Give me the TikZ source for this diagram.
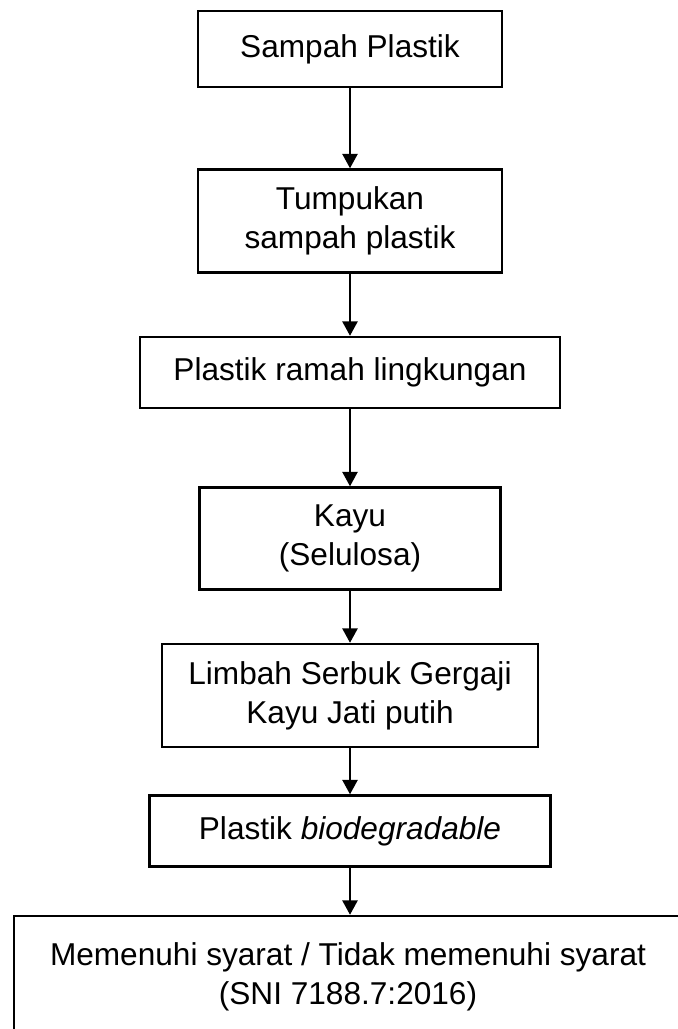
\documentclass[tikz,border=0pt]{standalone}
\usepackage{fontspec}
\setmainfont{Liberation Sans}
\usetikzlibrary{arrows.meta}
\begin{document}
\begin{tikzpicture}
[x=0.5pt, y=-0.5pt,
  boxdecorate/.style={shape=rectangle,draw,line width=1.2pt,inner sep=0pt,%
    align=center,font=\fontsize{15.8}{19.5}\selectfont},
  arrowdecorate/.style={-{Triangle[width=7.5pt,length=7.2pt]},line width=1.2pt}]
\useasboundingbox (0,0) rectangle (678,1029);
%% nodes or boxes
\node (sampah) at (350,49) [boxdecorate,minimum width=152pt,minimum height=38pt]
  {Sampah Plastik};
\node (tumpukan) at (350,221) [boxdecorate,minimum width=152pt,minimum height=51.5pt]
  {Tumpukan\\sampah plastik};
\node (ramah) at (350,372.5) [boxdecorate,minimum width=210pt,minimum height=35.5pt]
  {Plastik ramah lingkungan};
\node (kayu) at (350,538.5) [boxdecorate,minimum width=150.5pt,minimum height=51pt]
  {Kayu\\(Selulosa)};
\node (limbah) at (350,695.5) [boxdecorate,minimum width=188pt,minimum height=51.5pt]
  {Limbah Serbuk Gergaji\\Kayu Jati putih};
\node (biodeg) at (350,831) [boxdecorate,minimum width=200.5pt,minimum height=35.5pt]
  {Plastik \textit{biodegradable}};
\node (syarat) at (348,977) [boxdecorate,minimum width=334pt,minimum height=61pt]
  {Memenuhi syarat / Tidak memenuhi syarat\\(SNI 7188.7:2016)};
%% edges or arrows
\path
\foreach \startnode/\endnode in {sampah/tumpukan, tumpukan/ramah, ramah/kayu,
  kayu/limbah, limbah/biodeg}
{
  (\startnode) edge[arrowdecorate] (\endnode)
};
\draw[arrowdecorate] (biodeg) -- (biodeg |- syarat.north);
\end{tikzpicture}
\end{document}
